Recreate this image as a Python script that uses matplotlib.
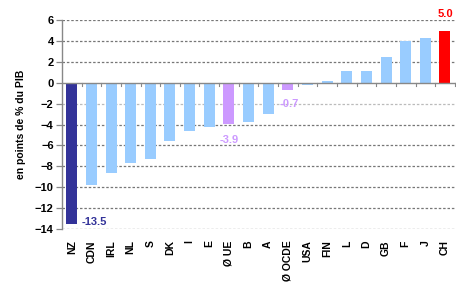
import matplotlib
matplotlib.use("Agg")
import matplotlib.pyplot as plt
import numpy as np

plt.rcParams['font.family'] = ['Liberation Sans', 'DejaVu Sans']

countries = ['NZ', 'CDN', 'IRL', 'NL', 'S', 'DK', 'I', 'E', 'Ø UE', 'B', 'A',
             'Ø OCDE', 'USA', 'FIN', 'L', 'D', 'GB', 'F', 'J', 'CH']
values = [-13.5, -9.8, -8.6, -7.7, -7.3, -5.6, -4.6, -4.2, -3.9, -3.8, -3.0,
          -0.7, -0.2, 0.2, 1.1, 1.15, 2.5, 4.0, 4.3, 5.0]

dark_blue = '#333399'
light_blue = '#99CCFF'
purple = '#CC99FF'
red = '#FF0000'

colors = []
for c in countries:
    if c == 'NZ':
        colors.append(dark_blue)
    elif c == 'CH':
        colors.append(red)
    elif c.startswith('Ø'):
        colors.append(purple)
    else:
        colors.append(light_blue)

fig = plt.figure(figsize=(4.59, 2.87), dpi=100)
ax = fig.add_axes([0.135, 0.202, 0.858, 0.728])

x = np.arange(len(countries))

# gridlines
for g in range(-14, 7, 2):
    if g == 0:
        continue
    col = '#BBBBBB' if g == -2 else '#777777'
    ax.axhline(g, color=col, linestyle=(0, (2, 1.5)), linewidth=0.9, zorder=0)

ax.bar(x, values, width=0.56, color=colors, zorder=2)
ax.axhline(0, color='#888888', linewidth=1.0, zorder=3)

# small ticks at the zero line between bars
for i in range(len(countries)):
    ax.plot([i + 0.5, i + 0.5], [0, -0.35], color='#888888', linewidth=0.8, zorder=3)

ax.set_xlim(-0.5, len(countries) - 0.45)
ax.set_ylim(-14, 6)
ax.set_yticks(range(-14, 7, 2))
ax.set_xticks(x)
ax.set_xticklabels(countries, rotation=90, fontsize=7.5, fontweight='bold')
ax.tick_params(axis='x', length=0, pad=8)
ax.tick_params(axis='y', labelsize=8, length=4, width=0.9, color='#888888', pad=2)
for lab in ax.get_yticklabels():
    lab.set_fontweight('bold')

for s in ['top', 'right', 'bottom']:
    ax.spines[s].set_visible(False)
ax.spines['left'].set_color('#888888')
ax.spines['left'].set_linewidth(1.0)

ax.set_ylabel('en points de % du PIB', fontsize=7.5, fontweight='bold', labelpad=6)

# value labels
ax.text(x[0] + 0.5, values[0] + 0.2, '-13.5', color=dark_blue, fontsize=8,
        fontweight='bold', va='center', ha='left')
ax.text(x[8], values[8] - 1.6, '-3.9', color=purple, fontsize=8,
        fontweight='bold', va='center', ha='center')
ax.text(x[11] + 0.05, values[11] - 1.3, '-0.7', color=purple, fontsize=8,
        fontweight='bold', va='center', ha='center')
ax.text(x[19], values[19] + 1.6, '5.0', color=red, fontsize=8,
        fontweight='bold', va='center', ha='center', clip_on=False)

fig.savefig('out.png', dpi=100)
